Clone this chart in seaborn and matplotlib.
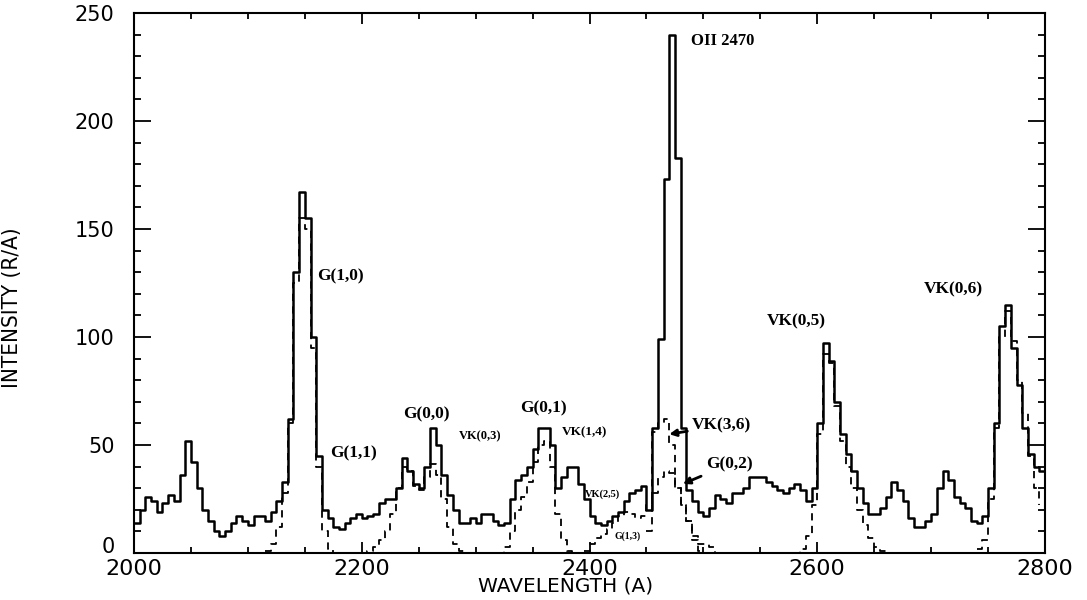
import numpy as np
import pandas as pd
import matplotlib
matplotlib.use("Agg")
import matplotlib.pyplot as plt
import matplotlib.transforms as mtransforms
import seaborn as sns

# observed spectrum, 5 A bins starting at 2000 A
bin_width = 5
intensity_obs = [
    14, 20, 26, 24, 19, 23, 27, 24, 36, 52,
    42, 30, 20, 15, 10, 8, 10, 14, 17, 15,
    13, 17, 17, 15, 19, 24, 33, 62, 130, 167,
    155, 100, 45, 20, 16, 12, 11, 14, 16, 18,
    16, 17, 18, 23, 25, 25, 30, 44, 38, 32,
    30, 40, 58, 50, 36, 27, 20, 14, 14, 16,
    14, 18, 18, 15, 13, 14, 25, 34, 36, 40,
    48, 58, 58, 50, 30, 35, 40, 40, 32, 25,
    17, 14, 13, 15, 17, 19, 24, 28, 29, 31,
    20, 58, 99, 173, 240, 183, 58, 29, 24, 19,
    17, 21, 27, 25, 23, 28, 28, 30, 35, 35,
    35, 33, 31, 29, 28, 30, 32, 29, 24, 30,
    60, 97, 89, 70, 55, 46, 38, 30, 23, 18,
    18, 21, 26, 33, 29, 24, 16, 12, 12, 15,
    18, 30, 38, 34, 26, 23, 21, 15, 14, 17,
    30, 60, 105, 115, 95, 78, 58, 46, 40, 38,
]
wl_obs = np.arange(2000, 2000 + bin_width * len(intensity_obs), bin_width)

# synthetic band models (dashed)
g10_start = 2115
g10_val = [1, 4, 12, 28, 60, 125, 155, 150, 95, 40, 10, 2, 0]
g00_start = 2200
g00_val = [0, 1, 3, 6, 10, 18, 30, 40, 38, 31, 29, 35, 41, 36, 25, 12, 4, 1, 0]
g01_start = 2320
g01_val = [0, 3, 10, 20, 26, 33, 42, 50, 52, 40, 18, 6, 1, 0]
g02_start = 2395
g02_val = [1, 4, 7, 9, 11, 14, 17, 19, 18, 16, 17, 22, 28, 35, 38, 37, 30,
           22, 15, 8, 4, 4, 3, 0]
vk36_start = 2450
vk36_val = [10, 56, 60, 62, 50, 30, 22, 15, 6, 1, 0]
vk05_start = 2580
vk05_val = [0, 2, 8, 22, 55, 92, 88, 68, 52, 40, 30, 20, 13, 7, 3, 1, 0]
vk06_start = 2740
vk06_val = [2, 6, 25, 58, 100, 112, 98, 80, 65, 45, 30, 22]

bands = [
    (g10_start, g10_val), (g00_start, g00_val), (g01_start, g01_val),
    (g02_start, g02_val), (vk36_start, vk36_val), (vk05_start, vk05_val),
    (vk06_start, vk06_val),
]

# band labels: text, wavelength, intensity, size
labels = [
    ("G(1,0)", 2161, 128, 12.5),
    ("G(1,1)", 2172, 46, 12.5),
    ("G(0,0)", 2236, 64, 12.5),
    ("VK(0,3)", 2285, 54, 9),
    ("G(0,1)", 2339, 67, 12.5),
    ("VK(1,4)", 2376, 56, 9.5),
    ("VK(2,5)", 2396, 27, 7.5),
    ("G(1,3)", 2422, 8, 7),
    ("OII 2470", 2489, 237, 12),
    ("VK(0,5)", 2556, 107, 12.5),
    ("VK(0,6)", 2694, 122, 12.5),
]
arrow_labels = [
    ("VK(3,6)", 2490, 59, 2470, 55),
    ("G(0,2)", 2502, 41, 2482, 32),
]

sns.set_style("ticks")
plt.rcParams["font.family"] = ["DejaVu Sans"]
plt.rcParams.update({"text.color": "black", "axes.labelcolor": "black",
                     "xtick.color": "black", "ytick.color": "black"})

fig = plt.figure(figsize=(10.87, 6), dpi=100)
ax = fig.add_axes([134 / 1087, 47 / 600, 911 / 1087, 540 / 600])

obs = pd.DataFrame({
    "wl": np.append(wl_obs, wl_obs[-1] + bin_width),
    "val": intensity_obs + [intensity_obs[-1]],
})
sns.lineplot(data=obs, x="wl", y="val", ax=ax, color="black", lw=1.8,
             drawstyle="steps-post", estimator=None)

for start, vals in bands:
    wl = np.arange(start, start + bin_width * len(vals), bin_width)
    sns.lineplot(x=wl, y=vals, ax=ax, color="black", lw=1.3,
                 linestyle=(0, (4, 3)), drawstyle="steps-post", estimator=None)

serif = ["Liberation Serif", "DejaVu Serif"]
for txt, x, y, size in labels:
    ax.text(x, y, txt, fontsize=size, fontweight="bold", family=serif,
            ha="left", va="center")
for txt, x, y, ax_x, ax_y in arrow_labels:
    ax.annotate(txt, xy=(ax_x, ax_y), xytext=(x, y), fontsize=12.5,
                fontweight="bold", family=serif, va="center", ha="left",
                arrowprops=dict(arrowstyle="-|>", color="black", lw=2,
                                shrinkA=1, shrinkB=0, mutation_scale=10))

ax.set_xlim(2000, 2800)
ax.set_ylim(0, 250)
ax.set_xticks([2000, 2200, 2400, 2600, 2800])
ax.set_xticks(np.arange(2000, 2801, 50), minor=True)
ax.set_yticks([0, 50, 100, 150, 200, 250])
ax.set_yticks(np.arange(0, 251, 10), minor=True)
ax.tick_params(which="both", direction="in", top=True, right=True,
               color="black", width=1.3)
ax.tick_params(axis="y", which="major", length=12)
ax.tick_params(axis="y", which="minor", length=5)
ax.tick_params(axis="x", which="major", length=8)
ax.tick_params(axis="x", which="minor", length=4)
ax.tick_params(axis="x", labelsize=16, pad=4)
ax.tick_params(axis="y", labelsize=15, pad=14)
for sp in ax.spines.values():
    sp.set_linewidth(1.5)
    sp.set_color("black")

# the "0" label sits a little above its tick in the original
zero_lab = ax.get_yticklabels()[0]
zero_lab.set_transform(zero_lab.get_transform() +
                       mtransforms.ScaledTranslation(0, 6 / 72, fig.dpi_scale_trans))

ax.set_xlabel("WAVELENGTH (A)", fontsize=14.5)
ax.xaxis.set_label_coords(0.474, -0.044)
ax.set_ylabel("INTENSITY (R/A)", fontsize=16, fontstretch="condensed")
ax.yaxis.set_label_coords(-0.123, 0.454)

fig.savefig("out.png", dpi=100)
